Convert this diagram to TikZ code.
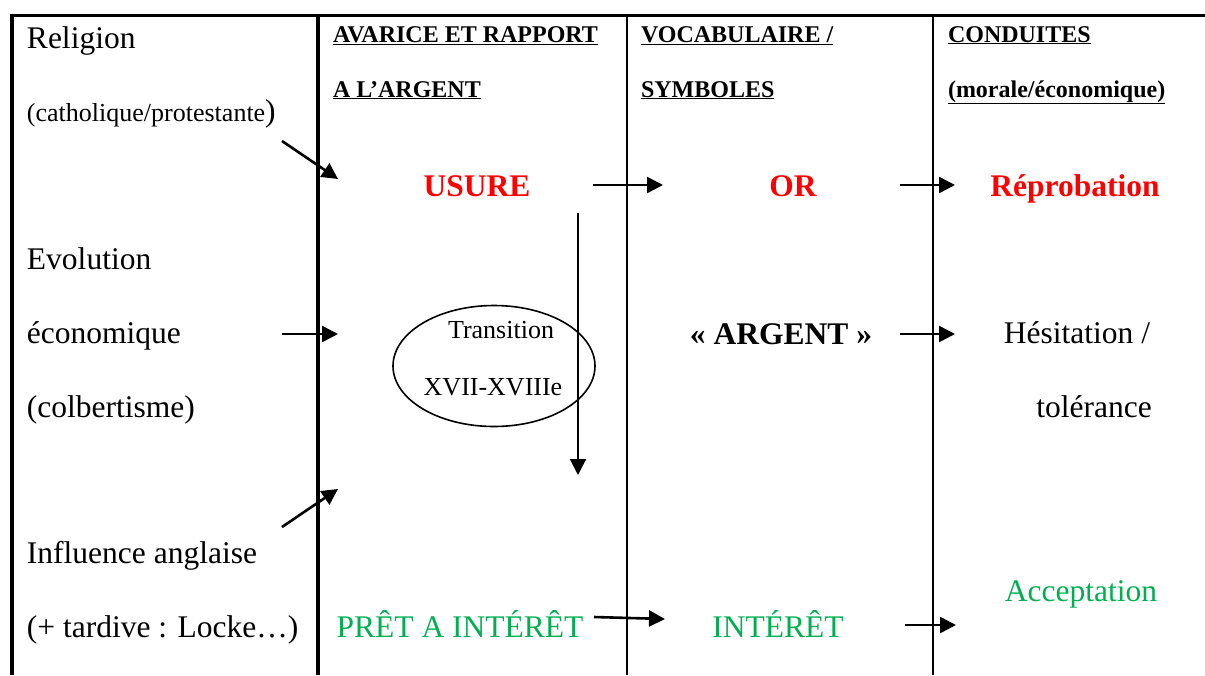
\documentclass[tikz,border=0pt]{standalone}
\usepackage{fontspec}
\setmainfont{Liberation Serif}
\usetikzlibrary{arrows.meta, positioning, shapes.geometric}
\definecolor{usred}{HTML}{FF0000}
\definecolor{prgreen}{HTML}{00B050}

\begin{document}
\begin{tikzpicture}[
  x=1pt, y=-1pt,
  every node/.style={inner sep=0pt, outer sep=0pt},
  txt/.style={font=\fontsize{31.5}{36}\selectfont, anchor=base west},
  small/.style={font=\fontsize{26}{30}\selectfont, anchor=base},
  head/.style={font=\fontsize{24}{28}\selectfont\bfseries, anchor=base west},
  cell/.style={font=\fontsize{31.5}{36}\selectfont, anchor=base, text=#1},
  cell/.default=black,
  arrow/.style={-{Triangle[length=16pt, width=16pt]}, line width=2.6pt},
  thickrule/.style={line width=4pt},
  thinrule/.style={line width=1.8pt},
]
\useasboundingbox (0,0) rectangle (1205,675);

% table rules
\draw[line width=3pt] (10,15) -- (1205,15);
\draw[thickrule] (12,15) -- (12,675);
\draw[thickrule] (318,15) -- (318,675);
\draw[thinrule] (627,15) -- (627,675);
\draw[thinrule] (933,15) -- (933,675);

% headers
\node[head] (h1a) at (333,42) {\underline{AVARICE ET RAPPORT}};
\node[head] (h1b) at (333,97) {\underline{A L’ARGENT}};
\node[head] (h2a) at (641,42) {\underline{VOCABULAIRE /}};
\node[head] (h2b) at (641,97) {\underline{SYMBOLES}};
\node[head] (h3a) at (948,42) {\underline{CONDUITES}};
\node[head] (h3b) at (948,97) {\underline{(morale/économique)}};

% factors (left column)
\node[txt] (religion) at (27,48) {Religion};
\node[txt] (cathprot) at (27,121) {{\fontsize{26}{30}\selectfont(catholique/protestante})};
\node[txt] (evolution) at (27,269) {Evolution};
\node[txt] (econ) at (27,343) {économique};
\node[txt] (colbert) at (27,417) {(colbertisme)};
\node[txt] (influence) at (27,563) {Influence anglaise};
\node[txt] (locke) at (27,637) {(+ tardive : Locke…)};

% red row
\node[cell=usred, font=\fontsize{31.5}{36}\selectfont\bfseries] (usure) at (477,196) {USURE};
\node[cell=usred, font=\fontsize{31.5}{36}\selectfont\bfseries] (or) at (793,196) {OR};
\node[cell=usred, font=\fontsize{31.5}{36}\selectfont\bfseries] (reprob) at (1075,196) {Réprobation};

% middle row
\node[draw, ellipse, line width=1.6pt, minimum width=202pt, minimum height=121pt] (trans) at (494,366) {};
\node[small] (transA) at (501,338) {Transition};
\node[small] (transB) at (493,395) {XVII-XVIIIe};
\node[cell, font=\fontsize{31.5}{36}\selectfont\bfseries] (argent) at (781,344) {« ARGENT »};
\node[cell] (hesit) at (1077,343) {Hésitation /};
\node[cell] (toler) at (1094,417) {tolérance};

% green row
\node[cell=prgreen] (pret) at (460,637) {PRÊT A INTÉRÊT};
\node[cell=prgreen] (interet) at (778,637) {INTÉRÊT};
\node[cell=prgreen] (accept) at (1081,601) {Acceptation};

% arrow ends
\coordinate (relA) at (282,141); \coordinate (relB) at (338,179);
\coordinate (evoA) at (282,334); \coordinate (evoB) at (338,334);
\coordinate (infA) at (282,527); \coordinate (infB) at (338,489);
\coordinate (usA) at (593,185);  \coordinate (usB) at (663,185);
\coordinate (orA) at (900,185);  \coordinate (orB) at (955,185);
\coordinate (trA) at (578,213);  \coordinate (trB) at (578,475);
\coordinate (agA) at (900,334);  \coordinate (agB) at (955,334);
\coordinate (prA) at (594,617);  \coordinate (prB) at (665,619);
\coordinate (inA) at (905,625);  \coordinate (inB) at (956,625);

\draw[arrow] (relA) -- (relB);
\draw[arrow] (evoA) -- (evoB);
\draw[arrow] (infA) -- (infB);
\draw[arrow] (usA) -- (usB);
\draw[arrow] (orA) -- (orB);
\draw[arrow, line width=2pt] (trA) -- (trB);
\draw[arrow] (agA) -- (agB);
\draw[arrow] (prA) -- (prB);
\draw[arrow] (inA) -- (inB);
\end{tikzpicture}
\end{document}
